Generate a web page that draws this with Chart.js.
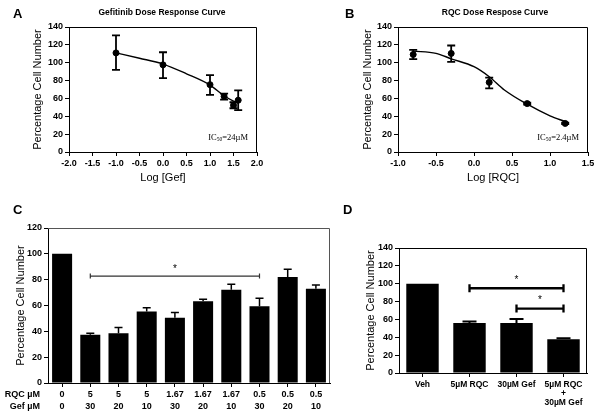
<!DOCTYPE html>
<html>
<head>
<meta charset="utf-8">
<script src="https://cdn.jsdelivr.net/npm/chart.js@4.4.0/dist/chart.umd.min.js"></script>
<style>
  html, body { margin: 0; padding: 0; background: #fff; }
  #wrap { position: relative; width: 600px; height: 419px; overflow: hidden; background: #fff; }
  canvas { position: absolute; }
</style>
</head>
<body>
<div id="wrap">
  <canvas id="chartA" width="300" height="200" style="left:0;top:0"></canvas>
  <canvas id="chartB" width="300" height="200" style="left:300px;top:0"></canvas>
  <canvas id="chartC" width="340" height="219" style="left:0;top:200px"></canvas>
  <canvas id="chartD" width="260" height="219" style="left:340px;top:200px"></canvas>
</div>
<script>
// ---- data ----
// A: gefitinib dose response
const gefLogDose = [-1, 0, 1, 1.3, 1.5, 1.6];
const gefMean = [111, 97.6, 75.4, 62.3, 52.3, 58];
const gefLow = [92, 82.7, 64, 58.6, 49, 46.8];
const gefHigh = [130.6, 111.7, 86, 65.3, 55.7, 69];
const gefFitX = [-1, -0.5, 0, 0.5, 1.0, 1.3, 1.5, 1.6];
const gefFitY = [111, 105, 98.5, 87.6, 75, 63, 57, 55];

// B: RQC dose response
const rqcLogDose = [-0.8, -0.3, 0.2, 0.7, 1.2];
const rqcMean = [109.2, 110.4, 78, 54.2, 32];
const rqcLow = [104, 101, 71.3, 53.2, 31.2];
const rqcHigh = [114.4, 119.3, 83.2, 55.2, 32.8];
const rqcFitX = [-0.8, -0.5, -0.3, 0, 0.2, 0.4, 0.7, 1.0, 1.2];
const rqcFitY = [113, 110.5, 104.4, 95.5, 84.3, 69.5, 53.5, 40.5, 34];

// C: combinations
const comboRqc = ['0', '5', '5', '5', '1.67', '1.67', '1.67', '0.5', '0.5', '0.5'];
const comboGef = ['0', '30', '20', '10', '30', '20', '10', '30', '20', '10'];
const comboMean = [100, 37.3, 38.6, 55.3, 50.6, 63.3, 72.2, 59.4, 82, 73];
const comboErr = [0, 1.3, 4.3, 3, 3.9, 1.5, 4.2, 6.2, 6, 2.8];

// D: single agents vs combination
const singleLabels = ['Veh', '5\u00b5M RQC', '30\u00b5M Gef', ['5\u00b5M RQC', '+', '30\u00b5M Gef']];
const singleMean = [100, 56, 56, 37.8];
const singleErr = [0, 1.8, 4.4, 1.1];

const yTitle = 'Percentage Cell Number';

Chart.defaults.font.family = '"Liberation Sans", Arial, sans-serif';
Chart.defaults.color = '#000';
Chart.defaults.animation = false;

// ---- plugins ----
const frame = {
  id: 'frame',
  afterDraw(chart, args, opts) {
    const { ctx, chartArea: a } = chart;
    ctx.save();
    ctx.strokeStyle = opts.color || '#000';
    ctx.lineWidth = 1;
    ctx.beginPath();
    ctx.moveTo(a.left, a.top + 0.5);
    ctx.lineTo(a.right - 0.5, a.top + 0.5);
    ctx.lineTo(a.right - 0.5, a.bottom);
    ctx.stroke();
    ctx.restore();
  }
};

const headings = {
  id: 'headings',
  afterDraw(chart, args, opts) {
    const ctx = chart.ctx;
    ctx.save();
    ctx.fillStyle = '#000';
    ctx.textBaseline = 'middle';
    ctx.font = 'bold 13px "Liberation Sans", Arial, sans-serif';
    ctx.textAlign = 'left';
    ctx.fillText(opts.letter, opts.letterX, opts.letterY);
    if (opts.title) {
      ctx.font = 'bold 8.5px "Liberation Sans", Arial, sans-serif';
      ctx.textAlign = 'center';
      ctx.fillText(opts.title, opts.titleX, opts.titleY);
    }
    if (opts.ic50) {
      const a = chart.chartArea;
      const big = '8.5px "Liberation Serif", "Times New Roman", serif';
      const small = '5.5px "Liberation Serif", "Times New Roman", serif';
      ctx.font = big;
      const w1 = ctx.measureText('IC').width;
      const w3 = ctx.measureText(opts.ic50).width;
      ctx.font = small;
      const w2 = ctx.measureText('50').width;
      let x = a.right - 9 - (w1 + w2 + w3);
      const y = a.bottom - 14;
      ctx.textAlign = 'left';
      ctx.font = big;
      ctx.fillText('IC', x, y);
      x += w1;
      ctx.font = small;
      ctx.fillText('50', x, y + 2);
      x += w2;
      ctx.font = big;
      ctx.fillText(opts.ic50, x, y);
    }
    ctx.restore();
  }
};

const pointErrors = {
  id: 'pointErrors',
  afterDatasetsDraw(chart) {
    const ctx = chart.ctx;
    const ys = chart.scales.y;
    chart.data.datasets.forEach((ds, i) => {
      if (!ds.errLow) return;
      const meta = chart.getDatasetMeta(i);
      ctx.save();
      ctx.strokeStyle = '#000';
      ctx.lineWidth = 1.8;
      meta.data.forEach((pt, j) => {
        const lo = ys.getPixelForValue(ds.errLow[j]);
        const hi = ys.getPixelForValue(ds.errHigh[j]);
        ctx.beginPath();
        ctx.moveTo(pt.x, lo); ctx.lineTo(pt.x, hi);
        ctx.moveTo(pt.x - 4, lo); ctx.lineTo(pt.x + 4, lo);
        ctx.moveTo(pt.x - 4, hi); ctx.lineTo(pt.x + 4, hi);
        ctx.stroke();
      });
      ctx.restore();
    });
  }
};

const barErrors = {
  id: 'barErrors',
  afterDatasetsDraw(chart, args, opts) {
    const ctx = chart.ctx;
    const ys = chart.scales.y;
    const ds = chart.data.datasets[0];
    const meta = chart.getDatasetMeta(0);
    ctx.save();
    ctx.strokeStyle = '#000';
    ctx.lineWidth = opts.width || 1.5;
    meta.data.forEach((bar, j) => {
      if (!ds.errUp[j]) return;
      const top = ys.getPixelForValue(ds.data[j] + ds.errUp[j]);
      ctx.beginPath();
      ctx.moveTo(bar.x, bar.y); ctx.lineTo(bar.x, top);
      ctx.moveTo(bar.x - opts.cap, top); ctx.lineTo(bar.x + opts.cap, top);
      ctx.stroke();
    });
    ctx.restore();
  }
};

const brackets = {
  id: 'brackets',
  afterDatasetsDraw(chart, args, opts) {
    const ctx = chart.ctx;
    const xs = chart.scales.x, ys = chart.scales.y;
    ctx.save();
    opts.items.forEach(b => {
      const x1 = xs.getPixelForValue(b.from), x2 = xs.getPixelForValue(b.to);
      const y = ys.getPixelForValue(b.value);
      ctx.strokeStyle = opts.color;
      ctx.lineWidth = opts.lineWidth;
      ctx.beginPath();
      ctx.moveTo(x1, y); ctx.lineTo(x2, y);
      ctx.moveTo(x1, y - opts.tick); ctx.lineTo(x1, y + opts.tick);
      ctx.moveTo(x2, y - opts.tick); ctx.lineTo(x2, y + opts.tick);
      ctx.stroke();
      ctx.fillStyle = '#000';
      ctx.font = '10px "Liberation Sans", Arial, sans-serif';
      ctx.textAlign = 'center';
      ctx.textBaseline = 'middle';
      ctx.fillText('*', (x1 + x2) / 2, y - opts.starGap);
    });
    ctx.restore();
  }
};

const rowLabels = {
  id: 'rowLabels',
  afterDraw(chart, args, opts) {
    const ctx = chart.ctx;
    const xs = chart.scales.x;
    const first = xs.top + 4 + 2 + opts.lineHeight / 2;
    ctx.save();
    ctx.fillStyle = '#000';
    ctx.font = 'bold 9px "Liberation Sans", Arial, sans-serif';
    ctx.textAlign = 'right';
    ctx.textBaseline = 'middle';
    opts.rows.forEach((r, i) => ctx.fillText(r, opts.x, first + i * opts.lineHeight));
    ctx.restore();
  }
};

// ---- axis helpers ----
function yAxis(max, width, titlePad) {
  return {
    min: 0, max: max,
    ticks: { stepSize: 20, padding: 2, font: { size: 9, weight: 'bold' } },
    grid: { drawOnChartArea: false, tickLength: 4, color: '#000' },
    border: { color: '#000', width: 1 },
    title: { display: true, text: yTitle, font: { size: 11 }, padding: { top: titlePad, bottom: 0 } },
    afterFit: s => { s.width = width; }
  };
}

function logAxis(min, max, height, title) {
  return {
    type: 'linear', min: min, max: max,
    ticks: { stepSize: 0.5, padding: 2, font: { size: 9, weight: 'bold' }, callback: v => v.toFixed(1) },
    grid: { drawOnChartArea: false, tickLength: 4, color: '#000' },
    border: { color: '#000', width: 1 },
    title: { display: true, text: title, font: { size: 11 }, padding: { top: 0, bottom: 15 } },
    afterFit: s => { s.height = height; }
  };
}

function doseChart(id, fitX, fitY, doseX, mean, low, high, xMin, xMax, xTitle, yW, yPad, pads, head) {
  new Chart(document.getElementById(id), {
    type: 'scatter',
    data: {
      datasets: [
        {
          type: 'line',
          data: fitX.map((x, i) => ({ x: x, y: fitY[i] })),
          borderColor: '#000', borderWidth: 1.4, pointRadius: 0,
          cubicInterpolationMode: 'monotone', fill: false
        },
        {
          data: doseX.map((x, i) => ({ x: x, y: mean[i] })),
          errLow: low, errHigh: high,
          backgroundColor: '#000', borderColor: '#000', pointRadius: 3
        }
      ]
    },
    options: {
      responsive: false,
      layout: { padding: pads },
      plugins: { legend: { display: false }, tooltip: { enabled: false }, headings: head },
      scales: { x: logAxis(xMin, xMax, 48, xTitle), y: yAxis(140, yW, yPad) }
    },
    plugins: [frame, pointErrors, headings]
  });
}

doseChart('chartA', gefFitX, gefFitY, gefLogDose, gefMean, gefLow, gefHigh, -2, 2, 'Log [Gef]', 69, 31,
  { top: 27, right: 43, left: 0, bottom: 0 },
  { letter: 'A', letterX: 13, letterY: 14, title: 'Gefitinib Dose Response Curve', titleX: 162, titleY: 13, ic50: '=24\u00b5M' });

doseChart('chartB', rqcFitX, rqcFitY, rqcLogDose, rqcMean, rqcLow, rqcHigh, -1, 1.5, 'Log [RQC]', 98, 61,
  { top: 27, right: 12, left: 0, bottom: 0 },
  { letter: 'B', letterX: 45, letterY: 14, title: 'RQC Dose Respose Curve', titleX: 195, titleY: 13, ic50: '=2.4\u00b5M' });

// C
new Chart(document.getElementById('chartC'), {
  type: 'bar',
  data: {
    labels: comboRqc.map((r, i) => [r, comboGef[i]]),
    datasets: [{ data: comboMean, errUp: comboErr, backgroundColor: '#000', barPercentage: 0.71, categoryPercentage: 1 }]
  },
  options: {
    responsive: false,
    layout: { padding: { top: 28, right: 10, left: 0, bottom: 0 } },
    plugins: {
      legend: { display: false }, tooltip: { enabled: false },
      headings: { letter: 'C', letterX: 13, letterY: 10 },
      frame: { color: '#555' },
      barErrors: { cap: 4, width: 1.5 },
      brackets: { items: [{ from: 1, to: 7, value: 82.8 }], color: '#333', lineWidth: 1.2, tick: 2.5, starGap: 7 },
      rowLabels: { rows: ['RQC \u00b5M', 'Gef \u00b5M'], x: 40, lineHeight: 12 }
    },
    scales: {
      x: {
        ticks: { padding: 2, font: { size: 9, weight: 'bold', lineHeight: 12 / 9 }, maxRotation: 0, autoSkip: false },
        grid: { drawOnChartArea: false, offset: false, tickLength: 4, color: '#000' },
        border: { color: '#000', width: 1 },
        afterFit: s => { s.height = 36; }
      },
      y: yAxis(120, 48, 14)
    }
  },
  plugins: [frame, barErrors, brackets, rowLabels, headings]
});

// D
new Chart(document.getElementById('chartD'), {
  type: 'bar',
  data: {
    labels: singleLabels,
    datasets: [{ data: singleMean, errUp: singleErr, backgroundColor: '#000', barPercentage: 0.69, categoryPercentage: 1 }]
  },
  options: {
    responsive: false,
    layout: { padding: { top: 48, right: 13, left: 0, bottom: 0 } },
    plugins: {
      legend: { display: false }, tooltip: { enabled: false },
      headings: { letter: 'D', letterX: 3, letterY: 10 },
      barErrors: { cap: 7, width: 2 },
      brackets: { items: [{ from: 1, to: 3, value: 94.9 }, { from: 2, to: 3, value: 72.2 }], color: '#000', lineWidth: 2.3, tick: 4, starGap: 8 }
    },
    scales: {
      x: {
        ticks: { padding: 3, font: { size: 8.5, weight: 'bold', lineHeight: 9 / 8.5 }, maxRotation: 0, autoSkip: false },
        grid: { drawOnChartArea: false, offset: false, tickLength: 4, color: '#000' },
        border: { color: '#000', width: 1 },
        afterFit: s => { s.height = 46; }
      },
      y: yAxis(140, 59, 24)
    }
  },
  plugins: [frame, barErrors, brackets, headings]
});
</script>
</body>
</html>
